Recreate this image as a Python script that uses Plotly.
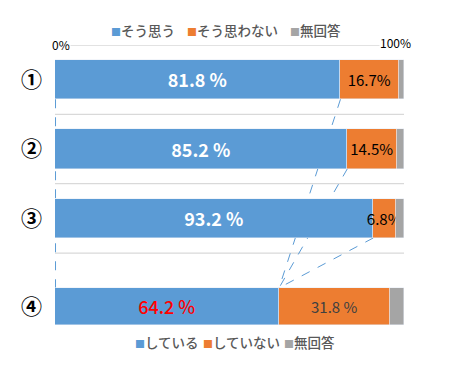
import plotly.graph_objects as go

categories = ["①", "②", "③", "④"]
# bar segment lengths (% of respondents)
agree = [81.8, 83.8, 91.2, 64.2]
disagree = [16.7, 14.1, 6.5, 31.8]
no_answer = [1.5, 2.1, 2.3, 4.0]
# data labels as printed on the chart
agree_labels = ["81.8 %", "85.2 %", "93.2 %", "64.2 %"]
disagree_labels = ["16.7%", "14.5%", "6.8%", "31.8 %"]
legend_top = ["そう思う", "そう思わない", "無回答"]
legend_bottom = ["している", "していない", "無回答"]
axis_labels = ["0%", "100%"]

BLUE, ORANGE, GRAY = "#5B9BD5", "#ED7D31", "#A5A5A5"
FONT = "Noto Sans CJK JP"

# layout constants (category positions on a numeric axis; ④ sits in a separate block)
ypos = [0, 1, 2, 3.27]
widths = [0.565, 0.565, 0.565, 0.535]

fig = go.Figure()
fig.add_trace(go.Bar(
    y=ypos, x=agree, orientation="h", width=widths, marker_color=BLUE,
    text=[f"<b>{t}</b>" if i < 3 else t for i, t in enumerate(agree_labels)],
    textposition="inside", insidetextanchor="middle",
    textangle=0, constraintext="none",
    insidetextfont=dict(family=FONT, size=18, weight=500,
                        color=["white", "white", "white", "#FF0000"]),
    showlegend=False, hoverinfo="skip"))
fig.add_trace(go.Bar(
    y=ypos, x=disagree, orientation="h", width=widths, marker_color=ORANGE,
    text=disagree_labels, textposition="inside", insidetextanchor="middle",
    textangle=0, constraintext="none",
    insidetextfont=dict(family=FONT, size=15, color=["black", "black", "black", "#404040"]),
    showlegend=False, hoverinfo="skip"))
fig.add_trace(go.Bar(
    y=ypos, x=no_answer, orientation="h", width=widths, marker_color=GRAY,
    showlegend=False, hoverinfo="skip"))

shapes = []
# horizontal gridlines between the first three categories
for g in [-0.5, 0.5, 1.5, 2.5]:
    shapes.append(dict(type="line", xref="x", yref="y", x0=0, x1=100, y0=g, y1=g,
                       line=dict(color="#D9D9D9", width=1.3), layer="below"))
# dashed connector lines
bottom4_top = ypos[3] - widths[3] / 2
shapes.append(dict(type="line", xref="x", yref="y", x0=0.15, x1=0.15,
                   y0=ypos[0] + widths[0] / 2, y1=bottom4_top,
                   line=dict(color=BLUE, width=1, dash="dash"), layer="below"))
for i in range(3):
    shapes.append(dict(type="line", xref="x", yref="y",
                       x0=agree[i], y0=ypos[i] + widths[i] / 2,
                       x1=agree[3], y1=bottom4_top,
                       line=dict(color=BLUE, width=1, dash="dash"), layer="below"))

annotations = [
    dict(x=0, y=-0.5, xref="x", yref="y", text=axis_labels[0], showarrow=False,
         xanchor="left", yanchor="middle", xshift=-4, bgcolor="white", borderpad=0,
         font=dict(family=FONT, size=12, color="black")),
    dict(x=100, y=-0.5, xref="x", yref="y", text=axis_labels[1], showarrow=False,
         xanchor="right", yanchor="middle", xshift=8, yshift=2, bgcolor="white", borderpad=0,
         font=dict(family=FONT, size=12, color="black")),
]

def legend_items(labels, xs, ypix):
    out = []
    for lab, col, xp in zip(labels, [BLUE, ORANGE, GRAY], xs):
        out.append(dict(
            x=xp / 456, y=1 - ypix / 387, xref="paper", yref="paper",
            xanchor="left", yanchor="middle", showarrow=False,
            text=f'<span style="color:{col};font-size:10px">■</span>{lab}',
            font=dict(family=FONT, size=13.5, weight=500, color="#595959")))
    return out

annotations += legend_items(legend_top, [109, 185, 288], 30)
annotations += legend_items(legend_bottom, [133, 201, 282], 342)

fig.update_layout(
    width=456, height=387, margin=dict(l=0, r=0, t=0, b=0),
    paper_bgcolor="white", plot_bgcolor="white",
    barmode="stack", bargap=0,
    shapes=shapes, annotations=annotations,
    font=dict(family=FONT),
    xaxis=dict(domain=[55 / 456, 404 / 456], range=[0, 100], showgrid=False,
               zeroline=False, showticklabels=False, showline=False, fixedrange=True,
               automargin=False),
    yaxis=dict(domain=[1 - 330 / 387, 1 - 45 / 387], range=[3.61, -0.5],
               tickvals=ypos, ticktext=[f"<b>{c}</b>" for c in categories],
               tickfont=dict(family=FONT, size=21, color="black"),
               ticklabelstandoff=12, showgrid=False, zeroline=False,
               showline=False, ticks="", fixedrange=True, automargin=False),
)

fig.write_html("out.html", config={"displayModeBar": False},
               post_script="document.body.style.margin='0';")
